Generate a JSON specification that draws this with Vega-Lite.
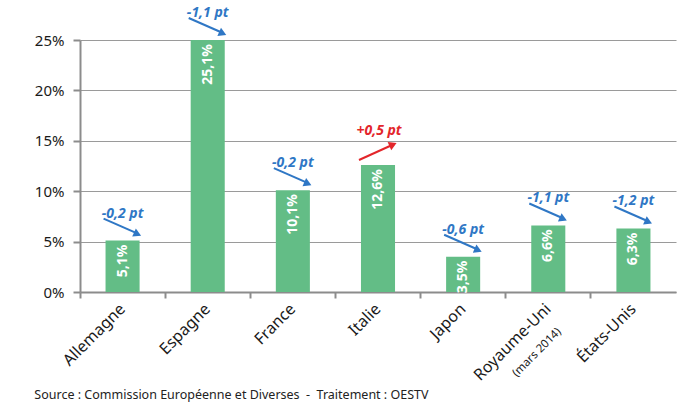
{
  "$schema": "https://vega.github.io/schema/vega-lite/v6.json",
  "width": 596,
  "height": 252,
  "autosize": {"type": "none"},
  "padding": {"left": 80, "top": 40, "right": 20, "bottom": 111},
  "background": "white",
  "config": {"font": "Noto Sans", "view": {"stroke": null}},
  "title": {
    "text": "Source : Commission Européenne et Diverses \u00a0-\u00a0 Traitement : OESTV",
    "orient": "bottom",
    "anchor": "start",
    "frame": "bounds",
    "fontSize": 12.5,
    "fontWeight": "normal",
    "color": "#222222",
    "offset": 6
  },
  "data": {
    "values": [
      {"pays": "Allemagne", "taux": 5.1, "variation": -0.2},
      {"pays": "Espagne", "taux": 25.1, "variation": -1.1},
      {"pays": "France", "taux": 10.1, "variation": -0.2},
      {"pays": "Italie", "taux": 12.6, "variation": 0.5},
      {"pays": "Japon", "taux": 3.5, "variation": -0.6},
      {"pays": "Royaume-Uni", "taux": 6.6, "variation": -1.1},
      {"pays": "États-Unis", "taux": 6.3, "variation": -1.2}
    ]
  },
  "transform": [
    {"calculate": "replace(format(datum.taux, '.1f'), '.', ',') + '%'", "as": "etiquette"},
    {"calculate": "(datum.variation > 0 ? '+' : '-') + replace(format(abs(datum.variation), '.1f'), '.', ',') + ' pt'", "as": "etiquette_variation"}
  ],
  "encoding": {
    "x": {
      "field": "pays",
      "type": "nominal",
      "sort": null,
      "scale": {"paddingInner": 0, "paddingOuter": 0},
      "axis": {
        "title": null,
        "bandPosition": 0,
        "labelOffset": 0,
        "labelAngle": -45,
        "labelAlign": "right",
        "labelBaseline": "middle",
        "labelFontSize": 16,
        "labelColor": "#1a1a1a",
        "labelPadding": 8,
        "domainColor": "#8c8c8c",
        "domainWidth": 2,
        "tickColor": "#8c8c8c",
        "tickWidth": 2,
        "tickSize": 6,
        "grid": false
      }
    },
    "y": {
      "field": "taux",
      "type": "quantitative",
      "scale": {"domain": [0, 25], "nice": false, "clamp": true},
      "axis": {
        "title": null,
        "values": [0, 5, 10, 15, 20, 25],
        "labelExpr": "datum.value + '%'",
        "labelFontSize": 15,
        "labelColor": "#1a1a1a",
        "labelPadding": 9,
        "domainColor": "#8c8c8c",
        "domainWidth": 2,
        "tickColor": "#8c8c8c",
        "tickWidth": 2,
        "tickSize": 7,
        "gridColor": "#9a9a9a",
        "gridWidth": 1.2
      }
    }
  },
  "layer": [
    {"mark": {"type": "bar", "width": {"band": 0.4}, "color": "#63bd86"}},
    {
      "mark": {"type": "text", "angle": 270, "align": "right", "baseline": "middle", "dx": -4, "color": "white", "fontWeight": "bold", "fontSize": 14},
      "encoding": {"text": {"field": "etiquette"}}
    },
    {
      "transform": [{"filter": "datum.variation < 0"}],
      "mark": {"type": "rule", "color": "#2f77c5", "strokeWidth": 2, "xOffset": -19, "x2Offset": 14, "yOffset": -22, "y2Offset": -7.5},
      "encoding": {"x2": {"field": "pays"}, "y2": {"field": "taux"}}
    },
    {
      "transform": [{"filter": "datum.variation < 0"}],
      "mark": {"type": "point", "shape": "triangle-right", "filled": true, "opacity": 1, "size": 80, "angle": 24, "color": "#2f77c5", "xOffset": 15, "yOffset": -6.5},
      "encoding": {}
    },
    {
      "transform": [{"filter": "datum.variation < 0"}],
      "mark": {"type": "text", "dy": -27, "color": "#2f77c5", "fontStyle": "italic", "fontWeight": "bold", "fontSize": 14},
      "encoding": {"text": {"field": "etiquette_variation"}}
    },
    {
      "transform": [{"filter": "datum.variation > 0"}],
      "mark": {"type": "rule", "color": "#e3262b", "strokeWidth": 2, "xOffset": -19, "x2Offset": 13, "yOffset": -5, "y2Offset": -19.5},
      "encoding": {"x2": {"field": "pays"}, "y2": {"field": "taux"}}
    },
    {
      "transform": [{"filter": "datum.variation > 0"}],
      "mark": {"type": "point", "shape": "triangle-right", "filled": true, "opacity": 1, "size": 80, "angle": -24, "color": "#e3262b", "xOffset": 15, "yOffset": -20.5},
      "encoding": {}
    },
    {
      "transform": [{"filter": "datum.variation > 0"}],
      "mark": {"type": "text", "dy": -34, "dx": 1, "color": "#e3262b", "fontStyle": "italic", "fontWeight": "bold", "fontSize": 14},
      "encoding": {"text": {"field": "etiquette_variation"}}
    },
    {
      "transform": [{"filter": "datum.pays == 'Royaume-Uni'"}],
      "mark": {"type": "text", "angle": 315, "align": "right", "baseline": "middle", "dx": -19, "dy": 35, "fontSize": 11.5, "color": "#1a1a1a"},
      "encoding": {"y": {"datum": 0}, "text": {"value": "(mars 2014)"}}
    }
  ]
}
